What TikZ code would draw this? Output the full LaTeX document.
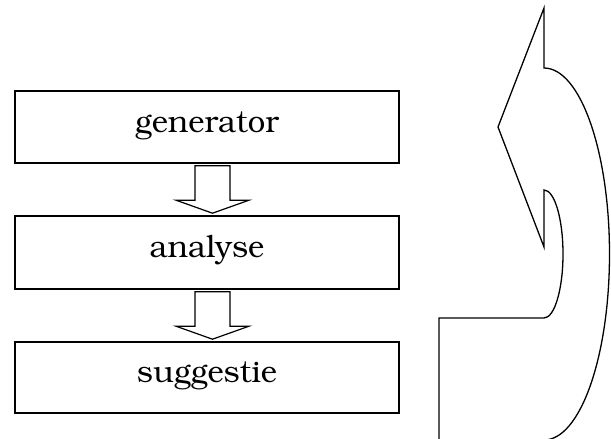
\documentclass[tikz,border=0pt]{standalone}
\usepackage[T1]{fontenc}
\usepackage{bookman}
\usetikzlibrary{calc}

\tikzset{
  stagebox/.style={draw, line width=1.6pt, minimum width=384pt, inner sep=0pt,
    text height=18pt, text depth=8pt, font=\fontsize{31}{36}\selectfont},
  blockarrow/.style={draw, line width=1.2pt, fill=white, line join=miter},
  looparrow/.style={draw, line width=1.3pt, line join=miter}
}

% hollow down arrow between two stacked boxes
\newcommand\stagearrow[2]{%
  \path[blockarrow] let \p1=(#1.south), \p2=(#2.north) in
    (\x1-12pt,\y1-2pt) -- (\x1+23pt,\y1-2pt) -- (\x1+23pt,\y2+15pt)
    -- (\x1+42pt,\y2+15pt) -- (\x1+5.5pt,\y2+2pt) -- (\x1-31pt,\y2+15pt)
    -- (\x1-12pt,\y2+15pt) -- cycle;}

\begin{document}
\begin{tikzpicture}[x=1pt,y=-1pt]
  \useasboundingbox (0,0) rectangle (611,439);

  \node[stagebox, minimum height=72pt] (gen) at (207,127) {generator};
  \node[stagebox, minimum height=73pt] (ana) at (207,252.5) {analyse};
  \node[stagebox, minimum height=71pt] (sug) at (207,377.5) {suggestie};

  \stagearrow{gen}{ana}
  \stagearrow{ana}{sug}

  % curved return arrow on the right, running off the lower edge
  \begin{scope}
    \clip (0,0) rectangle (611,439);
    \path[looparrow]
      (439,460) -- (439,318) -- (544,318)
      arc[start angle=90, end angle=-90, x radius=19, y radius=64]
      -- (544,247) -- (498,127) -- (544,8) -- (544,68)
      arc[start angle=-90, end angle=90, x radius=65.5, y radius=186];
  \end{scope}
\end{tikzpicture}
\end{document}
